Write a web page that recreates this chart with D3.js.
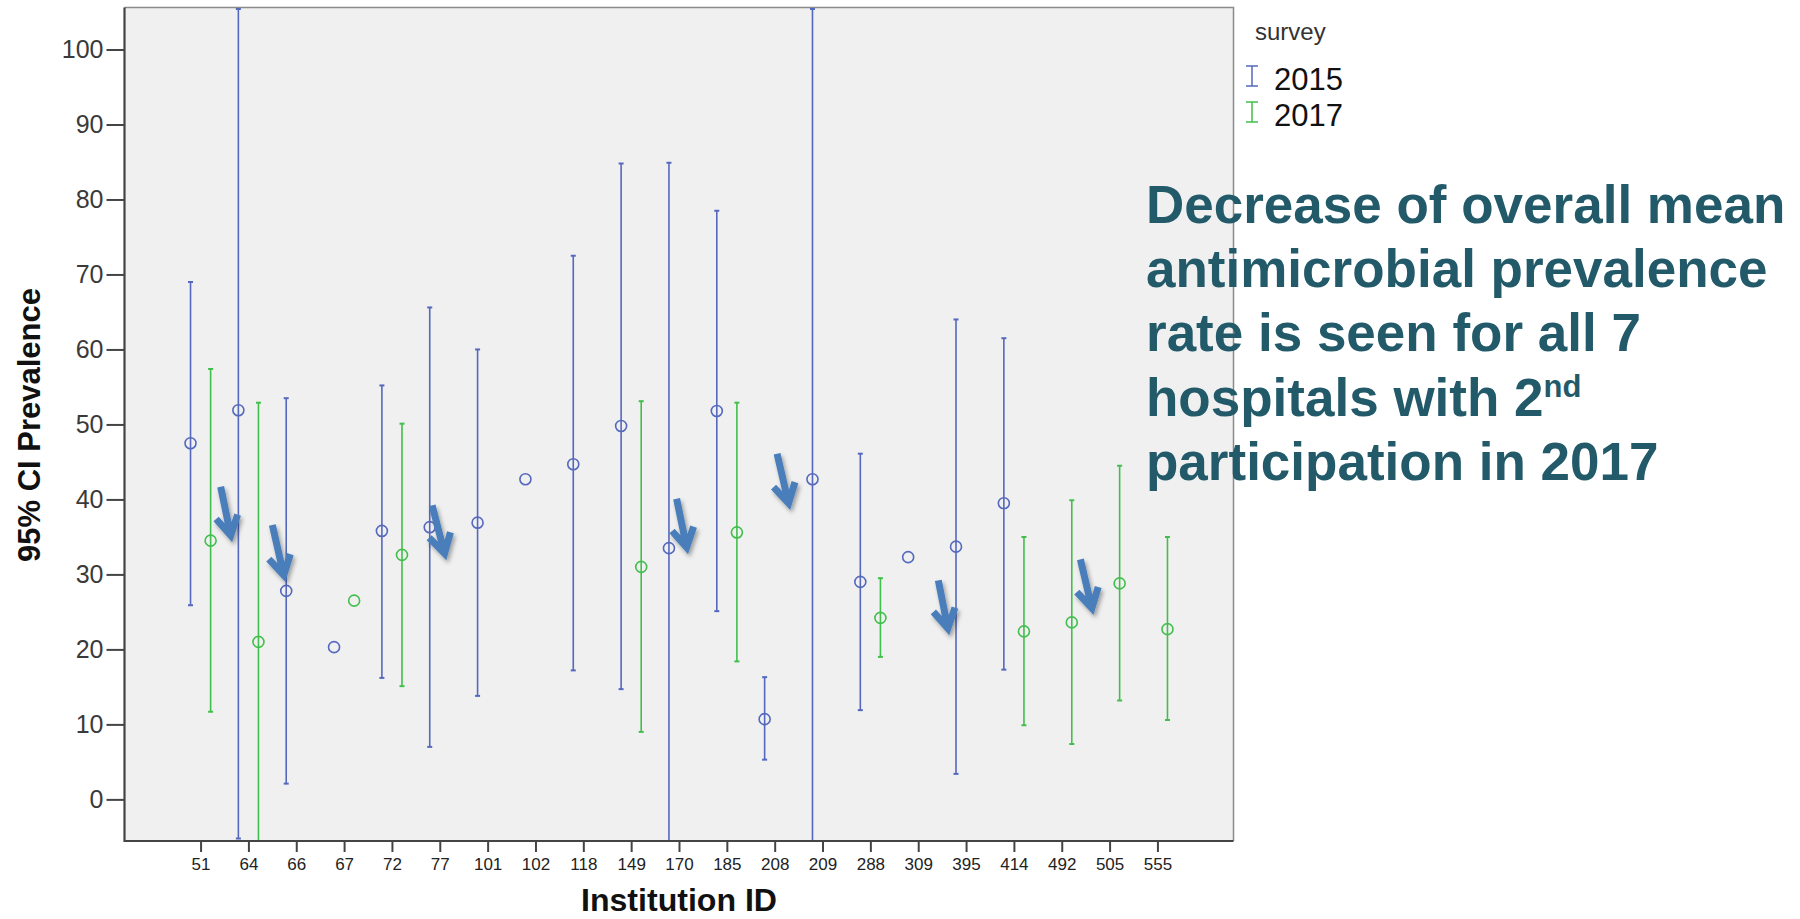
<!DOCTYPE html>
<html>
<head>
<meta charset="utf-8">
<script src="https://cdn.jsdelivr.net/npm/d3@7"></script>
<style>
  body { margin:0; background:#fff; }
  .tick text { font-family:Arial, "Liberation Sans", sans-serif; }
</style>
</head>
<body>
<div id="chart"></div>
<script>
var institutions = ["51","64","66","67","72","77","101","102","118","149","170","185","208","209","288","309","395","414","492","505","555"];
var surveys = ["2015","2017"];

// 95% CI per institution, null = no data for that survey
var mean2015  = [47.5,51.9,27.8,20.3,35.8,36.3,36.9,42.7,44.7,49.8,33.5,51.8,10.7,42.7,29.0,32.3,33.7,39.5,null,null,null];
var lower2015 = [25.9,-5.2,2.1,null,16.2,7.0,13.8,null,17.2,14.7,-18.0,25.1,5.3,-20.0,11.9,null,3.4,17.3,null,null,null];
var upper2015 = [69.0,105.4,53.5,null,55.2,65.6,60.0,null,72.5,84.8,84.9,78.5,16.3,105.4,46.1,null,64.0,61.5,null,null,null];

var mean2017  = [34.5,21.0,null,26.5,32.6,null,null,null,null,31.0,null,35.6,null,null,24.2,null,null,22.4,23.6,28.8,22.7];
var lower2017 = [11.7,-10.9,null,null,15.1,null,null,null,null,9.0,null,18.4,null,null,19.0,null,null,9.9,7.4,13.2,10.6];
var upper2017 = [57.4,52.9,null,null,50.1,null,null,null,null,53.1,null,52.9,null,null,29.5,null,null,35.0,39.9,44.5,35.0];

var yTicks = [0,10,20,30,40,50,60,70,80,90,100];
var yDomain = [-5.55,105.6];

// arrows in (category index, prevalence) units
var arrowStart = [[0.42,41.7],[1.50,36.6],[4.84,39.2],[9.95,40.1],[12.05,46.1],[15.42,29.2],[18.39,32.0]];
var arrowEnd   = [[0.63,35.2],[1.74,29.9],[5.10,32.8],[10.16,33.6],[12.29,39.5],[15.62,22.8],[18.63,25.5]];

var noteLines = ["Decrease of overall mean","antimicrobial prevalence","rate is seen for all 7","hospitals with 2","participation in 2017"];

var W = 1800, H = 919;
var plot = {left:124.5, right:1233.5, top:7.5, bottom:841};
var blue = "#5468bd", green = "#41bf4c";
var color = d3.scaleOrdinal().domain(surveys).range([blue, green]);
var font = "Arial, 'Liberation Sans', sans-serif";

var svg = d3.select("#chart").append("svg")
  .attr("width",W)
  .attr("height",H);

var defs = svg.append("defs");
defs.append("clipPath").attr("id","plotClip")
  .append("rect")
  .attr("x",plot.left).attr("y",plot.top)
  .attr("width",plot.right-plot.left).attr("height",plot.bottom-plot.top);
defs.append("filter").attr("id","shadow")
  .attr("x","-50%").attr("y","-50%").attr("width","200%").attr("height","200%")
  .append("feDropShadow")
  .attr("dx",2).attr("dy",3).attr("stdDeviation",2)
  .attr("flood-color","#000").attr("flood-opacity",0.35);

var x = d3.scalePoint()
  .domain(institutions)
  .range([plot.left,plot.right])
  .padding(1.59);

var y = d3.scaleLinear()
  .domain(yDomain)
  .range([plot.bottom,plot.top]);

// index -> pixel, for arrows sitting between categories
var xi = d3.scaleLinear()
  .domain([0,institutions.length-1])
  .range([x(institutions[0]),x(institutions[institutions.length-1])]);

var offset = x.step()*0.21;

// plot background
svg.append("rect")
  .attr("x",plot.left).attr("y",plot.top)
  .attr("width",plot.right-plot.left).attr("height",plot.bottom-plot.top)
  .attr("fill","#f0f0f0");

// top / right frame
svg.append("path")
  .attr("d","M"+plot.left+","+plot.top+"H"+plot.right+"V"+plot.bottom)
  .attr("fill","none")
  .attr("stroke","#8a8a8a")
  .attr("stroke-width",1.5);

// build records
var records = [];
institutions.forEach(function(id,i){
  if(mean2015[i]!==null) records.push({id:id,survey:"2015",mean:mean2015[i],lo:lower2015[i],hi:upper2015[i]});
  if(mean2017[i]!==null) records.push({id:id,survey:"2017",mean:mean2017[i],lo:lower2017[i],hi:upper2017[i]});
});

function xPos(d){
  return x(d.id) + (d.survey==="2015" ? -offset : offset);
}

var marks = svg.append("g").attr("clip-path","url(#plotClip)");

var bars = marks.selectAll(".bar")
  .data(records.filter(function(d){ return d.lo!==null; }))
  .enter().append("g")
  .attr("class","bar")
  .attr("stroke",function(d){ return color(d.survey); })
  .attr("stroke-width",1.6);

bars.append("line")
  .attr("x1",xPos).attr("x2",xPos)
  .attr("y1",function(d){ return y(d.lo); })
  .attr("y2",function(d){ return y(d.hi); });

bars.append("line")
  .attr("x1",function(d){ return xPos(d)-2.5; })
  .attr("x2",function(d){ return xPos(d)+2.5; })
  .attr("y1",function(d){ return y(d.hi); })
  .attr("y2",function(d){ return y(d.hi); })
  .attr("stroke-width",2);

bars.append("line")
  .attr("x1",function(d){ return xPos(d)-2.5; })
  .attr("x2",function(d){ return xPos(d)+2.5; })
  .attr("y1",function(d){ return y(d.lo); })
  .attr("y2",function(d){ return y(d.lo); })
  .attr("stroke-width",2);

marks.selectAll(".mean")
  .data(records)
  .enter().append("circle")
  .attr("class","mean")
  .attr("cx",xPos)
  .attr("cy",function(d){ return y(d.mean); })
  .attr("r",5.5)
  .attr("fill","none")
  .attr("stroke",function(d){ return color(d.survey); })
  .attr("stroke-width",1.6);

// axes
var yAxis = d3.axisLeft(y)
  .tickValues(yTicks)
  .tickSize(18)
  .tickPadding(3);

var gy = svg.append("g")
  .attr("transform","translate("+plot.left+",0)")
  .call(yAxis);
gy.select(".domain").remove();
gy.selectAll(".tick line").attr("stroke","#444").attr("stroke-width",2);
gy.selectAll(".tick text")
  .attr("font-size",25)
  .attr("fill","#3a3a3a");

var xAxis = d3.axisBottom(x)
  .tickSize(11)
  .tickPadding(6);

var gx = svg.append("g")
  .attr("transform","translate(0,"+plot.bottom+")")
  .call(xAxis);
gx.select(".domain").remove();
gx.selectAll(".tick line").attr("stroke","#444").attr("stroke-width",2);
gx.selectAll(".tick text")
  .attr("font-size",17)
  .attr("fill","#222");

// left / bottom axis lines
svg.append("path")
  .attr("d","M"+plot.left+","+plot.top+"V"+plot.bottom+"H"+plot.right)
  .attr("fill","none")
  .attr("stroke","#444")
  .attr("stroke-width",2.2);

// axis titles
svg.append("text")
  .attr("transform","translate(40,425) rotate(-90)")
  .attr("text-anchor","middle")
  .attr("font-family",font)
  .attr("font-weight","bold")
  .attr("font-size",31)
  .attr("fill","#111")
  .text("95% CI Prevalence");

svg.append("text")
  .attr("x",(plot.left+plot.right)/2)
  .attr("y",911)
  .attr("text-anchor","middle")
  .attr("font-family",font)
  .attr("font-weight","bold")
  .attr("font-size",31)
  .attr("textLength",196)
  .attr("lengthAdjust","spacingAndGlyphs")
  .attr("fill","#111")
  .text("Institution ID");

// arrows
var arrows = svg.append("g")
  .attr("filter","url(#shadow)");

arrowStart.forEach(function(s,i){
  var e = arrowEnd[i];
  var x0 = xi(s[0]), y0 = y(s[1]), x1 = xi(e[0]), y1 = y(e[1]);
  var ang = Math.atan2(y0-y1,x0-x1);
  var wing = 22, spread = Math.PI/6;
  var lx = x1 + wing*Math.cos(ang-spread), ly = y1 + wing*Math.sin(ang-spread);
  var rx = x1 + wing*Math.cos(ang+spread), ry = y1 + wing*Math.sin(ang+spread);
  arrows.append("path")
    .attr("d","M"+x0+","+y0+"L"+x1+","+y1+"M"+lx+","+ly+"L"+x1+","+y1+"L"+rx+","+ry)
    .attr("fill","none")
    .attr("stroke","#4a7ebb")
    .attr("stroke-width",7)
    .attr("stroke-linejoin","miter")
    .attr("stroke-miterlimit",10);
});

// legend
var legend = svg.append("g");
legend.append("text")
  .attr("x",1255).attr("y",40)
  .attr("font-family",font)
  .attr("font-size",24)
  .attr("fill","#333")
  .text("survey");

var item = legend.selectAll(".item")
  .data(surveys)
  .enter().append("g")
  .attr("class","item")
  .attr("transform",function(d,i){ return "translate(1252,"+(66+i*36)+")"; });

item.append("path")
  .attr("d","M-6,0H6M0,0V20M-6,20H6")
  .attr("fill","none")
  .attr("stroke",function(d){ return color(d); })
  .attr("stroke-width",1.5);

item.append("text")
  .attr("x",22).attr("y",23.5)
  .attr("font-family",font)
  .attr("font-size",31)
  .attr("fill","#111")
  .text(function(d){ return d; });

// annotation
var note = svg.append("text")
  .attr("font-family",font)
  .attr("font-weight","bold")
  .attr("font-size",53)
  .attr("fill","#235a6a");

noteLines.forEach(function(t,i){
  note.append("tspan")
    .attr("x",1146)
    .attr("y",223+i*64.2)
    .text(t);
  if(i===3){
    note.append("tspan")
      .attr("font-size",31)
      .attr("dy",-19)
      .text("nd");
  }
});
</script>
</body>
</html>
